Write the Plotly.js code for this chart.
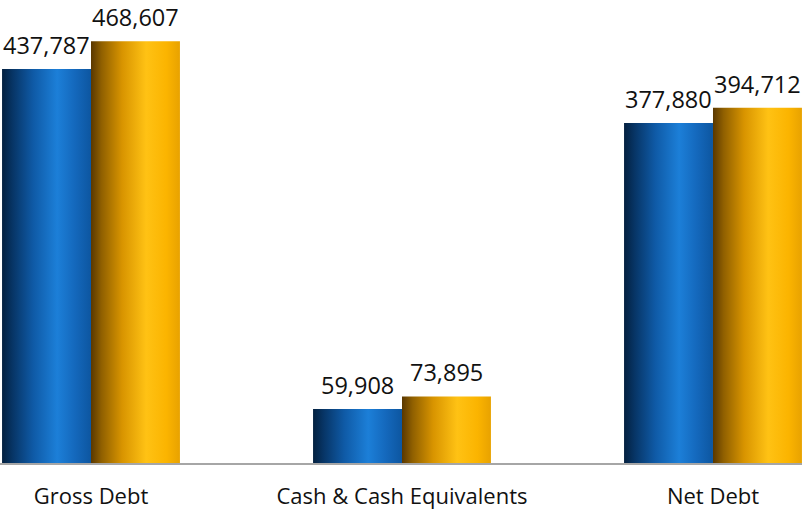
<!DOCTYPE html>
<html>
<head>
<meta charset="utf-8">
<script src="https://cdn.plot.ly/plotly-3.0.1.min.js"></script>
<style>html,body{margin:0;padding:0;background:#fff;}#chart{width:802px;height:510px;}</style>
</head>
<body>
<div id="chart"></div>
<script>
const categories = ["Gross Debt", "Cash & Cash Equivalents", "Net Debt"];
const series1Values = [437787, 59908, 377880];
const series2Values = [468607, 73895, 394712];
const series1Labels = ["437,787", "59,908", "377,880"];
const series2Labels = ["468,607", "73,895", "394,712"];

const bargap = 0.428;
const half = (1 - bargap) / 4;

const traces = [
  {type: "bar", x: categories, y: series1Values, marker: {color: "#1466b8", line: {width: 0}}, hoverinfo: "none"},
  {type: "bar", x: categories, y: series2Values, marker: {color: "#f5b000", line: {width: 0}}, hoverinfo: "none"}
];

const annotations = [];
categories.forEach((c, i) => {
  annotations.push({x: i - half, y: series1Values[i], xref: "x", yref: "y", text: series1Labels[i],
    showarrow: false, yanchor: "bottom", yshift: 7, borderpad: 0, font: {family: "Open Sans", size: 23.5, color: "#111"}});
  annotations.push({x: i + half, y: series2Values[i], xref: "x", yref: "y", text: series2Labels[i],
    showarrow: false, yanchor: "bottom", yshift: 7, borderpad: 0, font: {family: "Open Sans", size: 23.5, color: "#111"}});
});

const layout = {
  width: 802, height: 510,
  margin: {l: 0, r: 0, t: 0, b: 47, pad: 0},
  paper_bgcolor: "#fff", plot_bgcolor: "#fff",
  showlegend: false,
  barmode: "group", bargap: bargap, bargroupgap: 0,
  xaxis: {type: "category", range: [-0.2926, 2.2862], showline: true, linecolor: "#a6a6a6", linewidth: 2,
    ticks: "", showgrid: false, zeroline: false, tickfont: {family: "Open Sans", size: 22, color: "#111"},
    ticklabelstandoff: 13},
  yaxis: {range: [0, 514400], visible: false, showgrid: false, zeroline: false},
  annotations: annotations
};

function addGradient(defs, id, stops) {
  const ns = "http://www.w3.org/2000/svg";
  const g = document.createElementNS(ns, "linearGradient");
  g.setAttribute("id", id);
  g.setAttribute("x1", "0"); g.setAttribute("y1", "0");
  g.setAttribute("x2", "1"); g.setAttribute("y2", "0");
  stops.forEach(s => {
    const st = document.createElementNS(ns, "stop");
    st.setAttribute("offset", s[0]);
    st.setAttribute("stop-color", s[1]);
    g.appendChild(st);
  });
  defs.appendChild(g);
}

Plotly.newPlot("chart", traces, layout, {staticPlot: true}).then(gd => {
  const svg = gd.querySelector(".main-svg");
  let defs = svg.querySelector("defs");
  if (!defs) { defs = document.createElementNS("http://www.w3.org/2000/svg", "defs"); svg.insertBefore(defs, svg.firstChild); }
  addGradient(defs, "gradBlue", [[0, "#03203f"], [0.12, "#073566"], [0.35, "#0f5aa6"], [0.62, "#1c7fd8"], [0.82, "#1468bc"], [1, "#0d56a0"]]);
  addGradient(defs, "gradOrange", [[0, "#5a3800"], [0.12, "#906000"], [0.35, "#d89400"], [0.62, "#ffc214"], [0.85, "#fbb400"], [1, "#e8a200"]]);
  const traceGroups = gd.querySelectorAll(".barlayer .trace");
  const fills = ["url(#gradBlue)", "url(#gradOrange)"];
  traceGroups.forEach((tg, i) => {
    tg.querySelectorAll("path").forEach(p => { p.style.fill = fills[i]; });
  });
});
</script>
</body>
</html>
